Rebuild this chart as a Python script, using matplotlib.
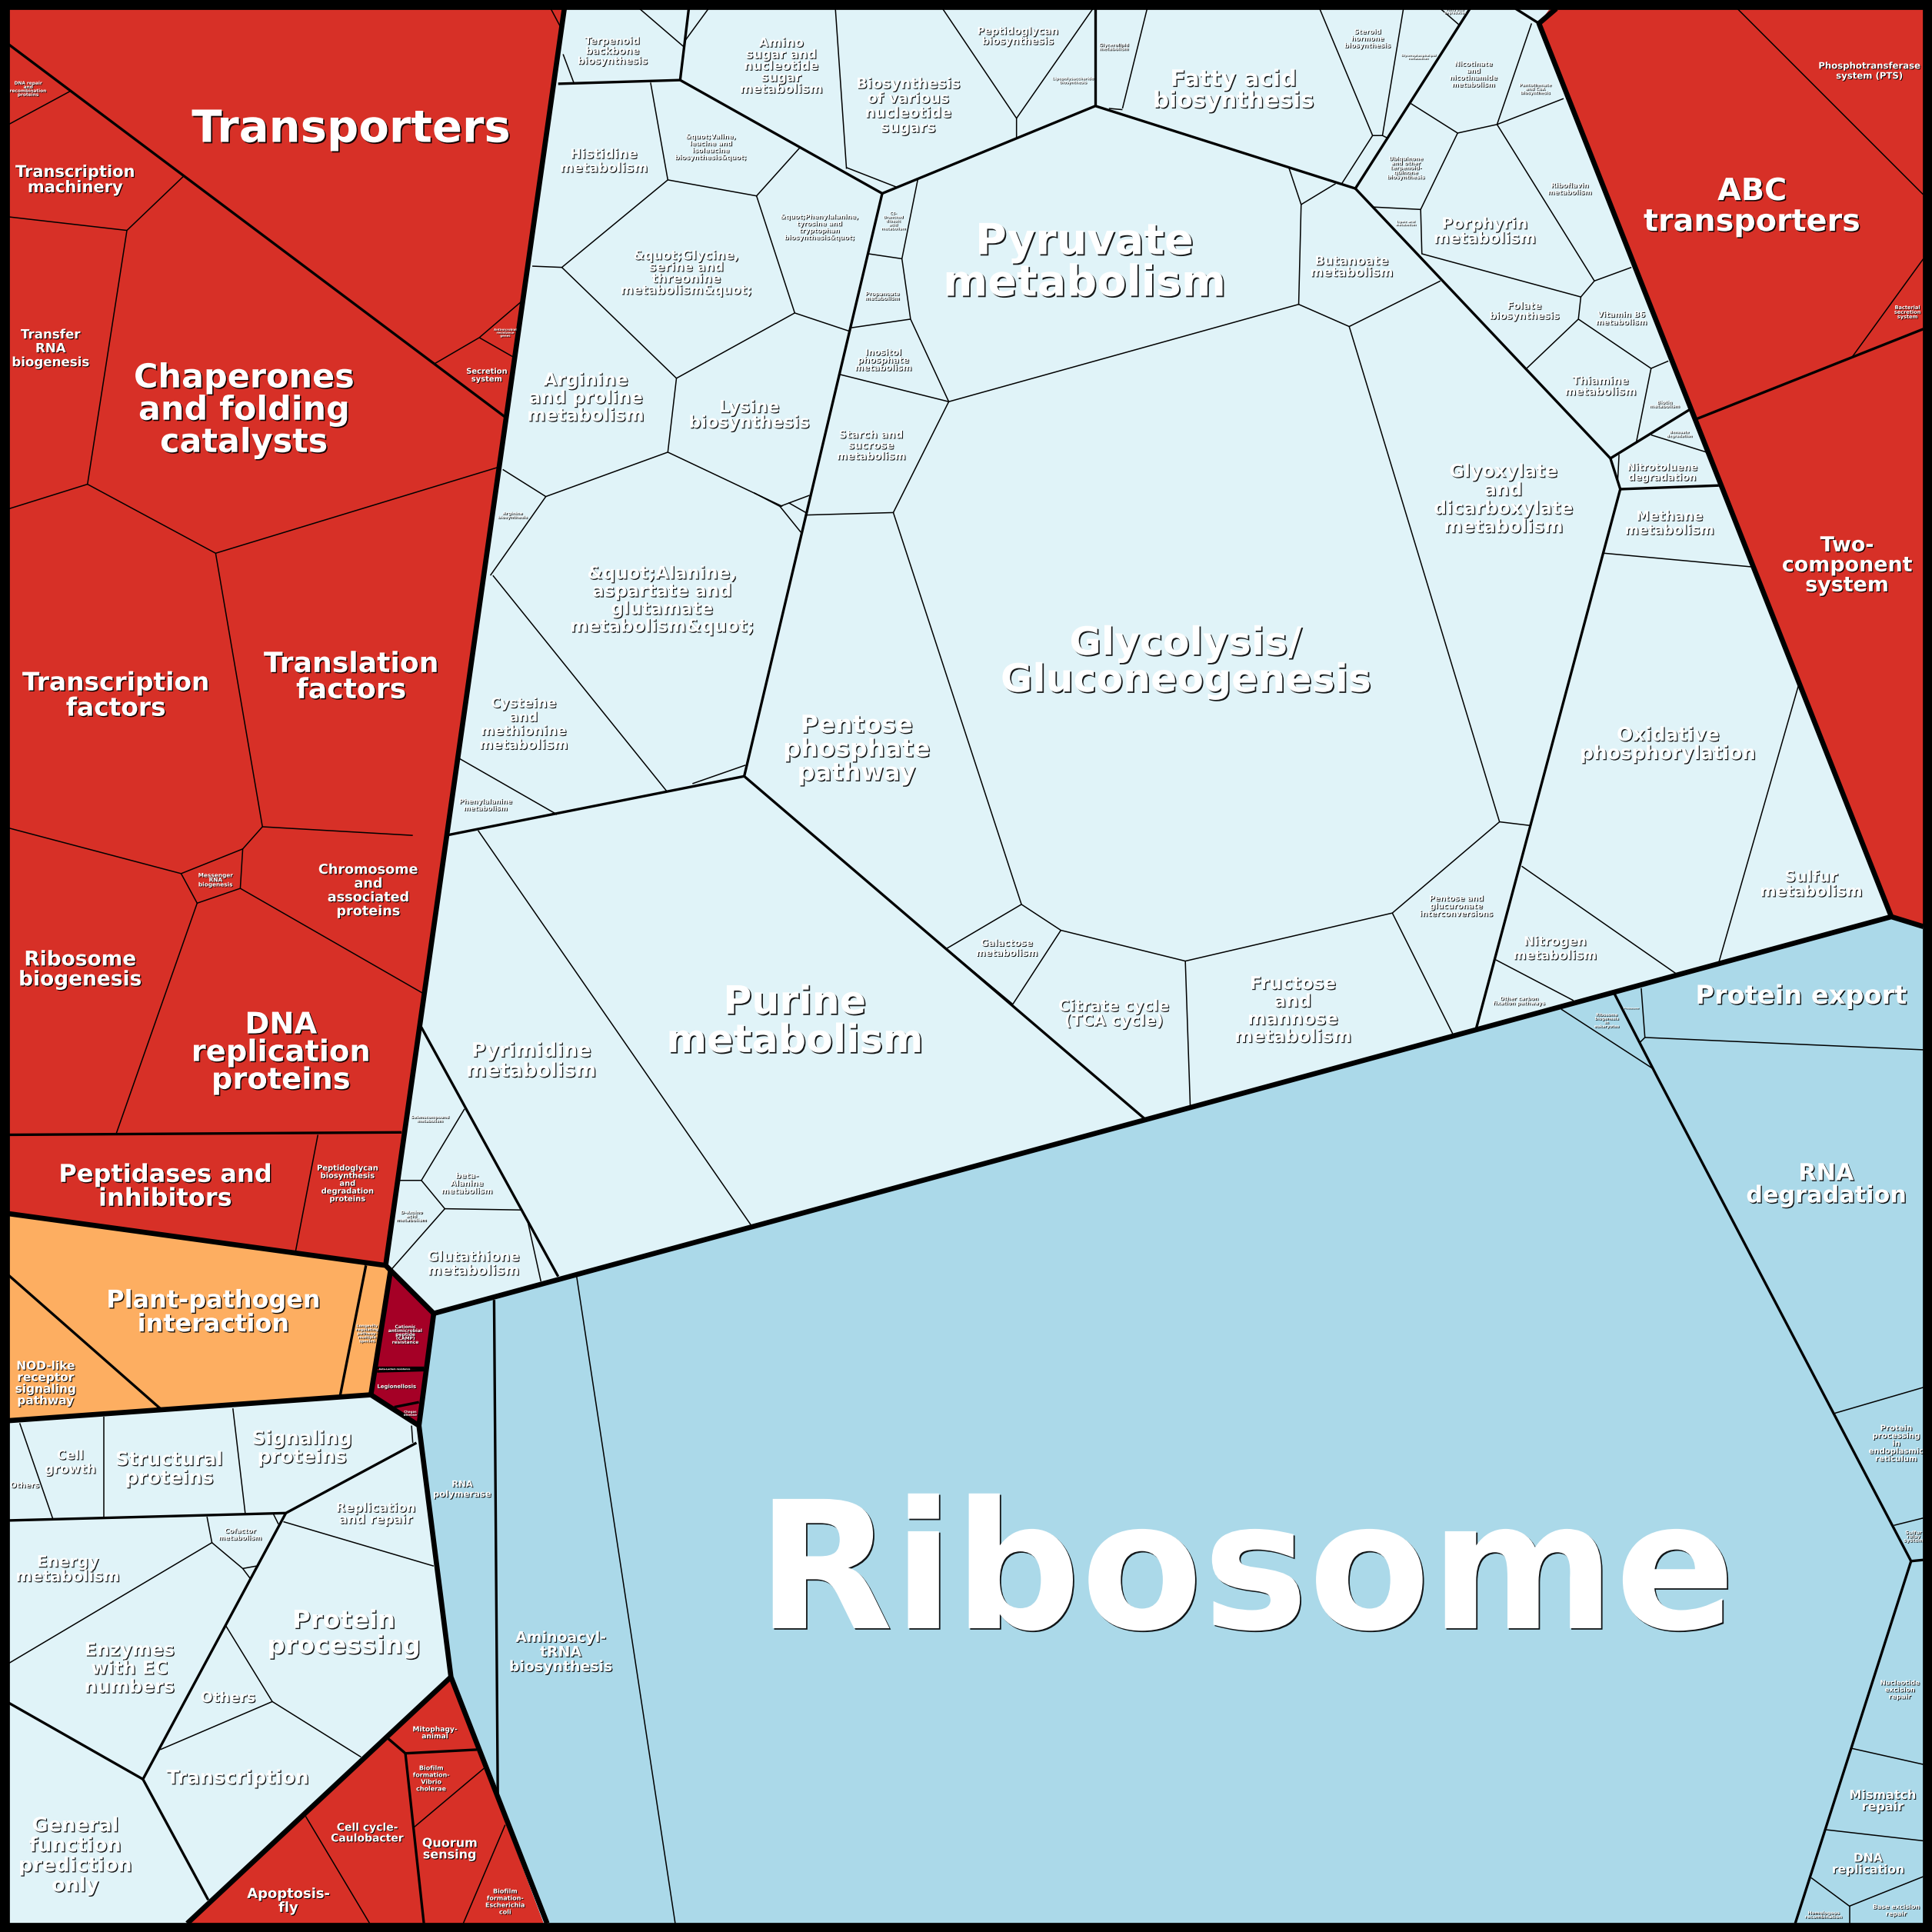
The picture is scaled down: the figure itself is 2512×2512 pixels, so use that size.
import matplotlib
matplotlib.use("Agg")
import matplotlib.pyplot as plt
import matplotlib.patheffects as pe
from matplotlib.collections import LineCollection
from matplotlib.patches import Polygon, Rectangle

# coordinates below in a 1568 x 1568 frame
SIZE = 1568

RED = "#d73027"
ORANGE = "#fdae61"
CRIMSON = "#a50026"
BLUE = "#abd9e9"
PALE = "#e0f3f8"

left_red = [(0, 0), (458, 0), (458, 7), (313, 1027), (0, 985)]
abc_red = [(1263, 0), (1568, 0), (1568, 754), (1561, 752), (1535, 744), (1249, 19)]
bottom_red = [(366, 1361), (444, 1568), (145, 1568)]
orange = [(0, 985), (313, 1027), (317, 1031), (301, 1132), (0, 1154)]
crimson = [(317, 1031), (352, 1066), (340, 1157), (301, 1132)]
blue = [(352, 1066), (1535, 744), (1568, 754), (1568, 1568), (444, 1568), (366, 1361), (340, 1157)]
regions = [left_red, abc_red, bottom_red, orange, crimson, blue]
region_colors = [RED, RED, RED, ORANGE, CRIMSON, BLUE]

heavy_edges = [
    [(458, 7), (313, 1027)],
    [(317, 1031), (301, 1132), (340, 1157), (366, 1361), (444, 1561)],
    [(7, 985), (313, 1027), (352, 1066), (1535, 744), (1561, 752)],
    [(7, 1153), (301, 1132)],
    [(352, 1066), (340, 1157)],
    [(366, 1361), (152, 1561)],
    [(1263, 7), (1249, 19), (1535, 744)],
]

medium_edges = [
    [(453, 68), (552, 65), (559, 7)],
    [(552, 65), (716, 157), (889, 86), (1100, 153), (1193, 7)],
    [(889, 7), (889, 86)],
    [(716, 157), (604, 630), (929, 908)],
    [(362, 678), (604, 630)],
    [(341, 832), (453, 1036)],
    [(1100, 153), (1307, 372), (1315, 397), (1198, 835)],
    [(1307, 372), (1372, 332)],
    [(1315, 397), (1395, 394)],
    [(1230, 7), (1249, 19)],
    [(1377, 340), (1561, 267)],
    [(1310, 806), (1345, 874), (1551, 1267), (1457, 1561)],
    [(1551, 1267), (1561, 1266)],
    [(401, 1055), (404, 1458)],
    [(7, 36), (412, 340)],
    [(7, 921), (326, 919)],
    [(7, 1035), (131, 1144)],
    [(297, 1027), (276, 1133)],
    [(306, 1110), (344, 1110)],
    [(306, 1113), (344, 1112)],
    [(320, 1142), (340, 1138)],
    [(7, 1234), (232, 1228), (338, 1171)],
    [(232, 1228), (116, 1444), (169, 1542)],
    [(7, 1382), (116, 1444)],
    [(315, 1411), (329, 1423), (387, 1420)],
    [(329, 1423), (344, 1561)],
]

thin_edges = [
    # metabolism, top
    [(447, 7), (456, 24)],
    [(457, 44), (466, 68)],
    [(519, 7), (555, 38)],
    [(575, 7), (556, 33)],
    [(678, 7), (687, 137)],
    [(687, 136), (728, 152)],
    [(765, 7), (825, 96), (825, 112)],
    [(825, 96), (887, 7)],
    [(931, 7), (911, 88)],
    [(900, 88), (911, 89)],
    [(1071, 7), (1114, 110), (1122, 110), (1139, 7)],
    [(1122, 110), (1126, 112)],
    [(1114, 110), (1089, 149)],
    [(1169, 7), (1184, 20)],
    # amino acids
    [(528, 67), (542, 146), (456, 217), (432, 216)],
    [(542, 146), (614, 159), (649, 120)],
    [(614, 159), (645, 254), (690, 269)],
    [(645, 254), (549, 307), (456, 217)],
    [(549, 307), (542, 367), (443, 403), (408, 381)],
    [(542, 367), (635, 411)],
    [(443, 403), (398, 467)],
    [(400, 467), (541, 642)],
    [(370, 614), (452, 661)],
    [(562, 636), (605, 621)],
    [(612, 400), (633, 411), (657, 402)],
    [(640, 408), (654, 416)],
    [(633, 411), (650, 432)],
    # central carbon
    [(745, 145), (732, 210), (739, 259), (770, 326), (733, 400), (725, 416)],
    [(705, 206), (732, 210)],
    [(691, 266), (739, 259)],
    [(682, 304), (770, 326)],
    [(654, 418), (725, 416), (829, 734), (861, 755), (962, 780), (1130, 741), (1217, 667), (1095, 265)],
    [(770, 326), (1054, 247), (1056, 166), (1046, 136)],
    [(1056, 166), (1084, 149)],
    [(1054, 247), (1095, 265), (1169, 228)],
    [(1217, 667), (1242, 670)],
    [(829, 734), (768, 770), (822, 815)],
    [(861, 755), (822, 815)],
    [(962, 780), (966, 898)],
    [(1130, 741), (1180, 841)],
    # nucleotides
    [(388, 674), (610, 995)],
    [(377, 900), (342, 958), (323, 958)],
    [(342, 958), (361, 981), (423, 982)],
    [(361, 981), (317, 1031)],
    [(428, 990), (439, 1040)],
    # cofactors
    [(1145, 84), (1183, 108), (1215, 101), (1243, 19)],
    [(1215, 101), (1269, 80)],
    [(1183, 108), (1153, 170), (1154, 206), (1283, 241), (1281, 259), (1239, 299)],
    [(1114, 168), (1153, 170)],
    [(1215, 101), (1294, 228), (1324, 217)],
    [(1283, 241), (1294, 228)],
    [(1281, 259), (1340, 299), (1354, 293)],
    [(1340, 299), (1328, 359)],
    [(1314, 369), (1313, 389)],
    [(1340, 353), (1385, 367)],
    # energy
    [(1302, 449), (1421, 460)],
    [(1460, 555), (1395, 781)],
    [(1235, 703), (1360, 790)],
    [(1214, 779), (1277, 812)],
    # genetic information
    [(1267, 819), (1341, 867)],
    [(1332, 802), (1335, 842), (1331, 846)],
    [(1335, 842), (1561, 852)],
    [(1489, 1147), (1561, 1126)],
    [(1537, 1238), (1561, 1232)],
    [(1503, 1419), (1561, 1432)],
    [(1482, 1485), (1561, 1494)],
    [(1470, 1524), (1501, 1547), (1561, 1523)],
    [(1501, 1547), (1501, 1561)],
    [(468, 1036), (548, 1561)],
    # left red
    [(7, 101), (57, 74)],
    [(149, 143), (103, 187), (71, 393), (175, 449), (405, 379)],
    [(7, 176), (103, 187)],
    [(71, 393), (7, 413)],
    [(175, 449), (213, 671), (197, 689), (195, 721), (160, 733), (147, 709), (197, 689)],
    [(7, 672), (147, 709)],
    [(160, 733), (94, 921)],
    [(195, 721), (343, 806)],
    [(213, 671), (335, 678)],
    [(258, 921), (240, 1015)],
    [(353, 295), (389, 274), (424, 244)],
    [(389, 274), (417, 290)],
    # ABC
    [(1410, 7), (1561, 158)],
    [(1561, 210), (1503, 290)],
    # lower pale
    [(16, 1155), (43, 1233)],
    [(84, 1150), (84, 1231)],
    [(189, 1143), (199, 1228)],
    [(334, 1157), (335, 1171)],
    [(168, 1231), (172, 1252), (7, 1350)],
    [(172, 1252), (197, 1273), (208, 1271)],
    [(197, 1273), (203, 1281)],
    [(222, 1229), (226, 1237)],
    [(230, 1235), (352, 1271)],
    [(183, 1319), (221, 1381), (130, 1420)],
    [(221, 1381), (293, 1426)],
    # bottom red
    [(248, 1474), (300, 1561)],
    [(336, 1483), (393, 1435)],
    [(410, 1481), (376, 1561)],
]

red_names = [
    "Transporters", "Transcription\nmachinery", "DNA repair\nand\nrecombination\nproteins",
    "Transfer\nRNA\nbiogenesis", "Chaperones\nand folding\ncatalysts", "Transcription\nfactors",
    "Translation\nfactors", "Chromosome\nand\nassociated\nproteins", "Messenger\nRNA\nbiogenesis",
    "Ribosome\nbiogenesis", "DNA\nreplication\nproteins", "Peptidases and\ninhibitors",
    "Peptidoglycan\nbiosynthesis\nand\ndegradation\nproteins", "Secretion\nsystem",
    "Antimicrobial\nresistance\ngenes", "Bacterial\nsecretion\nsystem",
    "Phosphotransferase\nsystem (PTS)", "ABC\ntransporters", "Two-\ncomponent\nsystem",
    "Mitophagy-\nanimal", "Biofilm\nformation-\nVibrio\ncholerae", "Cell cycle-\nCaulobacter",
    "Quorum\nsensing", "Apoptosis-\nfly", "Biofilm\nformation-\nEscherichia\ncoli",
]
red_x = [285, 61, 23, 41, 198, 94, 285, 299, 175, 65, 228, 134, 282, 395, 410, 1548, 1517, 1422, 1499,
         353, 350, 298, 365, 234, 410]
red_y = [102, 145, 72, 282, 331, 563, 548, 722, 714, 786, 853, 962, 960, 304, 270, 253, 57, 166, 458,
         1406, 1443, 1487, 1500, 1542, 1543]
red_em = [36, 13.1, 3.65, 10.4, 26.8, 20.5, 22.6, 11, 4.6, 16.5, 24, 20, 6.2, 6.2, 2.45, 4.1, 7.3,
          24.8, 16.8, 5.7, 5, 8.7, 10, 11.2, 5]

metabolism_names = [
    "Terpenoid\nbackbone\nbiosynthesis", "Histidine\nmetabolism",
    "&quot;Valine,\nleucine and\nisoleucine\nbiosynthesis&quot;",
    "&quot;Phenylalanine,\ntyrosine and\ntryptophan\nbiosynthesis&quot;",
    "&quot;Glycine,\nserine and\nthreonine\nmetabolism&quot;", "Arginine\nand proline\nmetabolism",
    "Lysine\nbiosynthesis", "&quot;Alanine,\naspartate and\nglutamate\nmetabolism&quot;",
    "Cysteine\nand\nmethionine\nmetabolism", "Phenylalanine\nmetabolism", "Arginine\nbiosynthesis",
    "Amino\nsugar and\nnucleotide\nsugar\nmetabolism", "Biosynthesis\nof various\nnucleotide\nsugars",
    "Peptidoglycan\nbiosynthesis", "Lipopolysaccharide\nbiosynthesis", "Glycerolipid\nmetabolism",
    "Fatty acid\nbiosynthesis", "Steroid\nhormone\nbiosynthesis", "Glycerophospholipid\nmetabolism",
    "Fatty acid\ndegradation", "Nicotinate\nand\nnicotinamide\nmetabolism",
    "Pantothenate\nand CoA\nbiosynthesis", "Ubiquinone\nand other\nterpenoid-\nquinone\nbiosynthesis",
    "Porphyrin\nmetabolism", "Riboflavin\nmetabolism", "Butanoate\nmetabolism", "Folate\nbiosynthesis",
    "Vitamin B6\nmetabolism", "Thiamine\nmetabolism", "Biotin\nmetabolism", "Benzoate\ndegradation",
    "Nitrotoluene\ndegradation", "Methane\nmetabolism", "Oxidative\nphosphorylation",
    "Sulfur\nmetabolism", "Nitrogen\nmetabolism", "Other carbon\nfixation pathways",
    "Glyoxylate\nand\ndicarboxylate\nmetabolism", "Pyruvate\nmetabolism", "Glycolysis/\nGluconeogenesis",
    "C5-\nBranched\ndibasic\nacid\nmetabolism", "Propanoate\nmetabolism", "Inositol\nphosphate\nmetabolism",
    "Starch and\nsucrose\nmetabolism", "Pentose\nphosphate\npathway", "Pyrimidine\nmetabolism",
    "Purine\nmetabolism", "Galactose\nmetabolism", "Citrate cycle\n(TCA cycle)",
    "Fructose\nand\nmannose\nmetabolism", "Pentose and\nglucuronate\ninterconversions",
    "Selenocompound\nmetabolism", "beta-\nAlanine\nmetabolism", "D-Amino\nacid\nmetabolism",
    "Glutathione\nmetabolism", "Lipoic acid\nmetabolism",
]
metabolism_x = [497, 490, 577, 665, 557, 475, 608, 537, 425, 394, 416, 634, 737, 826, 871, 904, 1001,
                1110, 1151, 1181, 1196, 1246, 1141, 1205, 1274, 1097, 1237, 1316, 1299, 1351, 1363,
                1349, 1355, 1354, 1470, 1262, 1233, 1220, 880, 962, 725, 716, 717, 707, 695, 431, 645,
                817, 904, 1049, 1182, 349, 379, 334, 384, 1141]
metabolism_y = [41, 130, 119, 184, 221, 322, 336, 486, 587, 653, 418, 53, 85, 29, 65, 38, 72, 31, 46,
                9, 60, 72, 136, 187, 153, 216, 252, 258, 313, 328, 352, 383, 424, 603, 717, 769, 812,
                404, 211, 535, 179, 240, 292, 361, 607, 860, 827, 769, 822, 819, 735, 908, 960, 987,
                1025, 181]
metabolism_em = [8, 10.8, 5.3, 5.2, 10.2, 14.4, 13.8, 14.3, 10.9, 5.4, 3.4, 10.2, 11.8, 8.2, 3.1, 3.6,
                 18.4, 5.3, 2.45, 2.6, 5.3, 3.4, 4.3, 12.6, 5.4, 10.2, 8, 6.3, 8.8, 3.7, 3, 8, 11, 15.5,
                 12.6, 10.3, 4.2, 14.7, 34.8, 31.5, 3, 4.25, 7, 8.5, 20, 16, 31.6, 7.6, 12.7, 14.4,
                 6.3, 3.2, 6.3, 3.7, 11.3, 2.5]

genetic_names = [
    "Ribosome", "Protein export", "RNA\ndegradation", "Protein\nprocessing\nin\nendoplasmic\nreticulum",
    "Sulfur\nrelay\nsystem", "Nucleotide\nexcision\nrepair", "Mismatch\nrepair", "DNA\nreplication",
    "Homologous\nrecombination", "Base excision\nrepair", "Ribosome\nbiogenesis\nin\neukaryotes",
    "Proteasome", "RNA\npolymerase", "Aminoacyl-\ntRNA\nbiosynthesis",
]
genetic_x = [1011, 1462, 1482, 1539, 1553, 1542, 1528, 1516, 1480, 1539, 1304, 1324, 375, 455]
genetic_y = [1270, 807, 960, 1171, 1247, 1371, 1461, 1512, 1554, 1550, 828, 818, 1208, 1340]
genetic_em = [144, 21, 18.9, 6.3, 3.9, 5.3, 10, 9.7, 3.7, 5, 3.2, 1.85, 7.2, 11.8]

other_names = [
    "Others", "Cell\ngrowth", "Structural\nproteins", "Signaling\nproteins", "Replication\nand repair",
    "Cofactor\nmetabolism", "Energy\nmetabolism", "Enzymes\nwith EC\nnumbers", "Protein\nprocessing",
    "Others", "Transcription", "General\nfunction\nprediction\nonly",
    "Plant-pathogen\ninteraction", "NOD-like\nreceptor\nsignaling\npathway",
    "Longevity\nregulating\npathway-\nmultiple\nspecies",
    "Cationic\nantimicrobial\npeptide\n(CAMP)\nresistance", "beta-Lactam resistance", "Legionellosis",
    "Chagas\ndisease",
]
other_x = [20, 57, 137, 245, 305, 195, 55, 105, 279, 185, 193, 61, 173, 37, 298, 329, 320, 322, 333]
other_y = [1205, 1186, 1191, 1174, 1228, 1245, 1273, 1353, 1324, 1377, 1442, 1505, 1064, 1122, 1082,
           1083, 1111, 1125, 1147]
other_em = [6.2, 10.4, 15.3, 15.4, 10.2, 5.3, 12.8, 14.8, 20.3, 11.7, 15.6, 16, 19.9, 9.6, 3.1, 3.7,
            1.9, 4.3, 2.5]

fig = plt.figure(figsize=(12.56, 12.56), dpi=200)
ax = fig.add_axes([0, 0, 1, 1])
ax.set_xlim(0, SIZE)
ax.set_ylim(SIZE, 0)
ax.axis("off")
ax.add_patch(Rectangle((0, 0), SIZE, SIZE, color=PALE, lw=0, zorder=0))

for pts, col in zip(regions, region_colors):
    ax.add_patch(Polygon(pts, closed=True, facecolor=col, edgecolor="none", zorder=1))

ax.add_collection(LineCollection(thin_edges, colors="k", linewidths=0.55, zorder=2))
ax.add_collection(LineCollection(medium_edges, colors="k", linewidths=1.2, zorder=3))
ax.add_collection(LineCollection(heavy_edges, colors="k", linewidths=2.4, zorder=4, joinstyle="round"))


def put_labels(names, xs, ys, ems):
    for name, x, y, em in zip(names, xs, ys, ems):
        off = min(0.8 + em * 0.03, 1.8) * 72 / 200
        # va=center counts the descender, so push the block down a little
        ax.text(x, y + 0.08 * em, name, ha="center", va="center", multialignment="center", color="white",
                fontsize=em * 0.5767, fontweight="bold", family="DejaVu Sans", linespacing=1.0,
                zorder=5, clip_on=True,
                path_effects=[pe.SimplePatchShadow(offset=(off, -off), shadow_rgbFace="k", alpha=0.9),
                              pe.Normal()])


put_labels(red_names, red_x, red_y, red_em)
put_labels(metabolism_names, metabolism_x, metabolism_y, metabolism_em)
put_labels(genetic_names, genetic_x, genetic_y, genetic_em)
put_labels(other_names, other_x, other_y, other_em)

# black frame, half of the stroke falls outside the axes
ax.add_patch(Rectangle((0, 0), SIZE, SIZE, fill=False, edgecolor="k", linewidth=8.9, zorder=6))

fig.savefig("out.png", dpi=200)
